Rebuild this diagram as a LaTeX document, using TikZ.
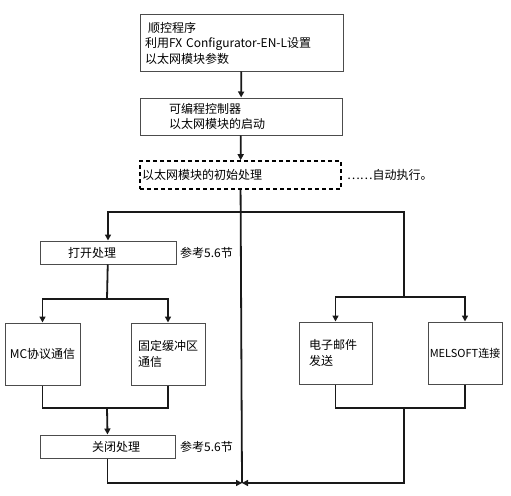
\documentclass[tikz,border=0pt]{standalone}
\usepackage{fontspec}
\setmainfont{Noto Sans CJK SC}
\usetikzlibrary{arrows.meta}

\begin{document}
\begin{tikzpicture}[x=1pt, y=-1pt,
    font=\fontsize{12}{15.5}\selectfont,
    box/.style={draw=black!70, line width=1pt, inner ysep=2pt},
    flow/.style={line width=1.8pt, black!90},
    arr/.style={flow, -{Triangle[length=6pt, width=6pt]}}]
    \useasboundingbox (0,0) rectangle (511,495);
    % Start-up chain
    \node[box, text width=193pt, inner xsep=5pt, minimum height=56pt, align=left] (seq) at (241.5,43)
        {\hspace*{3pt}顺控程序\\利用FX Configurator-EN-L设置\\以太网模块参数};
    \node[box, text width=144pt, inner xsep=29pt, minimum height=37pt, align=left] (plc) at (241,116.5)
        {可编程控制器\\以太网模块的启动};
    \node[draw=black, line width=1.6pt, dash pattern=on 4pt off 3pt, text width=197pt, inner xsep=2pt,
        minimum height=28pt, align=left] (init) at (240.5,175) {以太网模块的初始处理};
    \node[anchor=west, inner sep=0pt] (auto) at (347,175) {……自动执行。};
    % Left branch
    \node[box, text width=80pt, inner xsep=28pt, minimum height=23pt, align=left] (open) at (108,252.5) {打开处理};
    \node[anchor=west, inner sep=0pt] (ref1) at (180,253) {参考5.6节};
    \node[box, minimum width=75pt, minimum height=62pt] (mc) at (42.5,354) {MC协议通信};
    \node[box, text width=60pt, inner xsep=7pt, minimum height=62pt, align=left] (buf) at (168,354) {固定缓冲区\\通信};
    \node[box, text width=65pt, inner xsep=35pt, minimum height=23pt, align=right] (close) at (107.5,446.5) {关闭处理};
    \node[anchor=west, inner sep=0pt] (ref2) at (180,447) {参考5.6节};
    % Right branch
    \node[box, text width=53pt, inner xsep=10pt, minimum height=62pt, align=left] (mail) at (335.5,353) {电子邮件\\发送};
    \node[box, minimum width=74pt, minimum height=62pt, inner xsep=1pt, font=\fontsize{11}{13}\selectfont] (melsoft) at (465,353) {MELSOFT连接};
    % Junctions
    \coordinate (split) at (242,212);
    \coordinate (rightfork) at (404,297);
    \coordinate (leftfork) at (107,299);
    \coordinate (leftmerge) at (107,408);
    \coordinate (rightmerge) at (404,408);
    \coordinate (join) at (242,483);
    % Connectors
    \draw[arr] (seq) -- (plc);
    \draw[arr] (plc) -- (init);
    \draw[flow] (init) -- (join);
    \draw[arr] (split) -| (open.north);
    \draw[flow] (split) -| (rightfork);
    \draw[flow] (open) -- (leftfork);
    \draw[arr] (leftfork) -| (mc.north);
    \draw[arr] (leftfork) -| (buf.north);
    \draw[arr] (rightfork) -| (mail.north);
    \draw[arr] (rightfork) -| (melsoft.north);
    \draw[flow] (mc.south) |- (leftmerge);
    \draw[flow] (buf.south) |- (leftmerge);
    \draw[arr] (leftmerge) -- (close.north);
    \draw[flow] (mail.south) |- (rightmerge);
    \draw[flow] (melsoft.south) |- (rightmerge);
    \draw[arr] (close.south) |- (join);
    \draw[arr] (rightmerge) |- (join);
\end{tikzpicture}
\end{document}
